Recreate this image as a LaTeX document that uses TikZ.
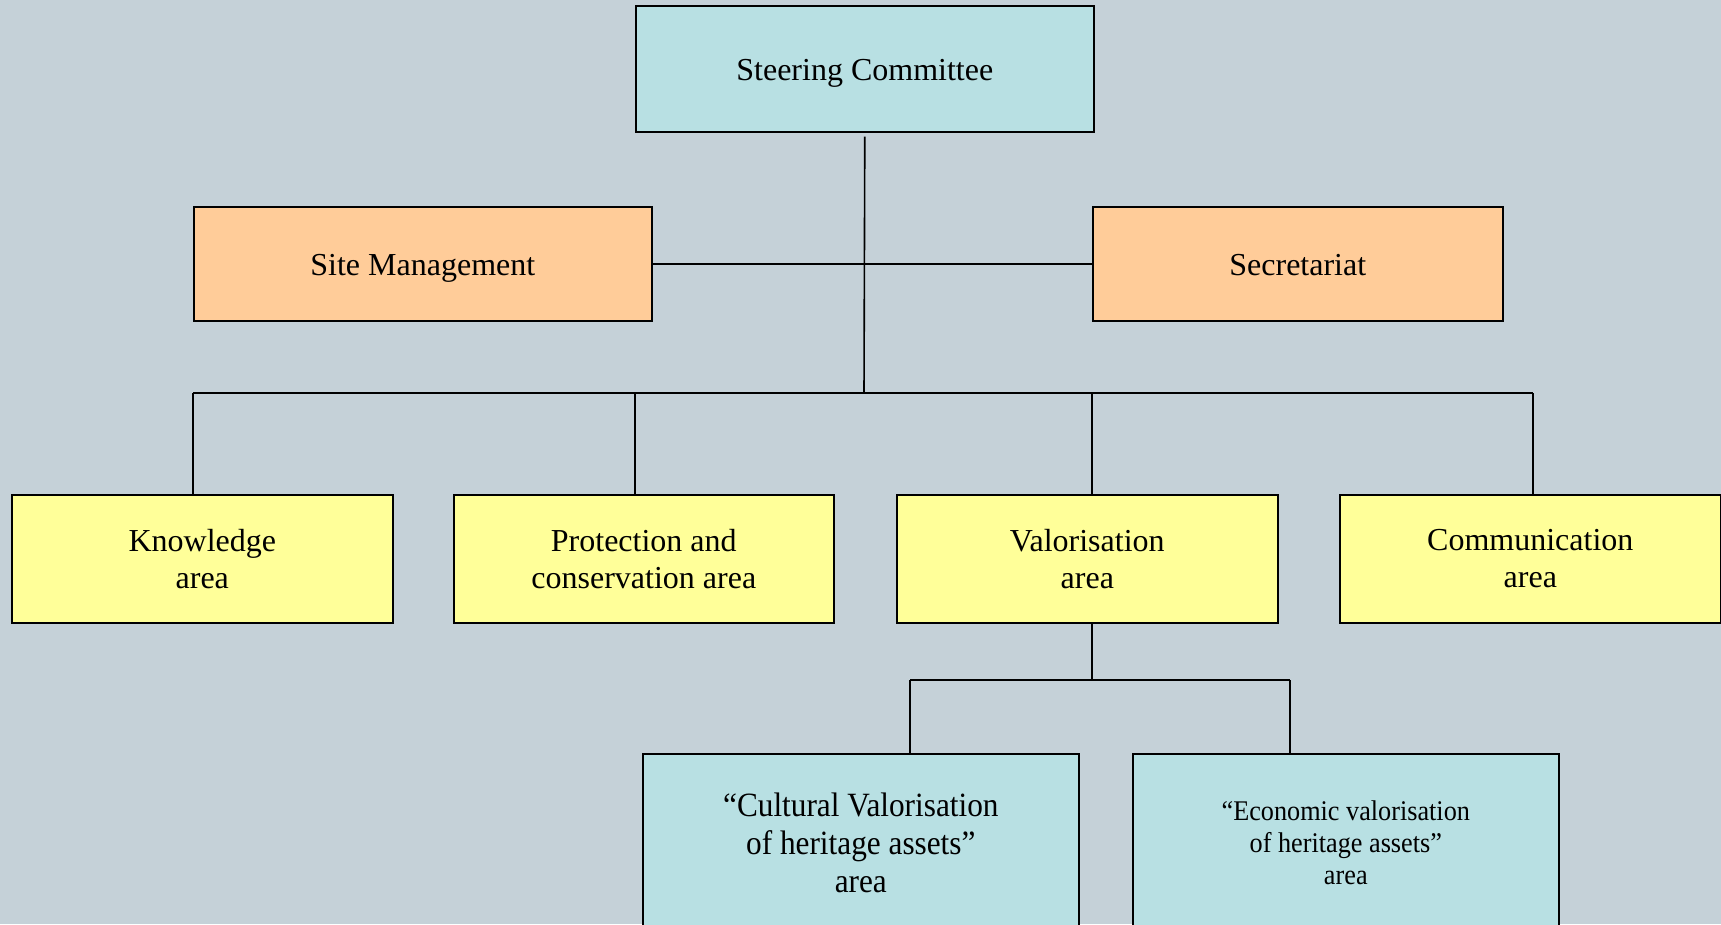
\documentclass[tikz,border=0pt]{standalone}
\usepackage{fontspec}
\setmainfont{Liberation Serif}[Ligatures=TeX]
\newfontfamily\condfont{Liberation Serif}[FakeStretch=0.92,Ligatures=TeX]
\definecolor{bg}{RGB}{197,209,216}
\definecolor{steerfill}{RGB}{184,224,227}
\definecolor{orangefill}{RGB}{255,204,153}
\definecolor{yellowfill}{RGB}{255,255,153}
\begin{document}
\begin{tikzpicture}[x=1pt,y=-1pt,
  box/.style={draw=black, line width=1.6pt, inner sep=0pt, align=center,
    anchor=north west, font=\fontsize{32}{37}\selectfont},
  oneline/.style={text height=30pt, text depth=6pt},
  link/.style={line width=1.6pt}]
\clip (0,0) rectangle (1721,924);
\fill[bg] (0,0) rectangle (1721,924);
% top
\node[box, oneline, fill=steerfill, minimum width=458pt, minimum height=126pt] (steer) at (635,5) {Steering Committee};
% second level
\node[box, oneline, fill=orangefill, minimum width=458pt, minimum height=114pt] (site) at (193,206) {Site Management};
\node[box, oneline, fill=orangefill, minimum width=410pt, minimum height=114pt] (sec) at (1092,206) {Secretariat};
% areas
\node[box, fill=yellowfill, minimum width=381pt, minimum height=128pt] (know) at (11,494) {Knowledge\\area};
\node[box, fill=yellowfill, minimum width=380pt, minimum height=128pt] (prot) at (453,494) {Protection and\\conservation area};
\node[box, fill=yellowfill, minimum width=381pt, minimum height=128pt] (val) at (896,494) {Valorisation\\area};
\node[box, fill=yellowfill, minimum width=381pt, minimum height=128pt] (comm) at (1339,494) {Communication\\area};
% bottom
\node[box, fill=steerfill, minimum width=436pt, minimum height=178pt,
  font=\condfont\fontsize{34}{38}\selectfont] (cult) at (642,753) {“Cultural Valorisation\\of heritage assets”\\area};
\node[box, fill=steerfill, minimum width=426pt, minimum height=178pt,
  font=\condfont\fontsize{28.5}{32}\selectfont] (econ) at (1132,753) {“Economic valorisation\\of heritage assets”\\area};
% connectors
\coordinate (j1) at (864,393);
\coordinate (b1) at (193,393);
\coordinate (b2) at (635,393);
\coordinate (b3) at (1092,393);
\coordinate (b4) at (1533,393);
\draw[link, shorten <=4pt] (steer.south) -- (j1);
\draw[link] (site.east) -- (sec.west);
\draw[link] (b1) -- (b4);
\draw[link] (b1) -- (b1 |- know.north);
\draw[link] (b2) -- (b2 |- prot.north);
\draw[link] (b3) -- (b3 |- val.north);
\draw[link] (b4) -- (b4 |- comm.north);
\coordinate (v0) at (1092,680);
\coordinate (v1) at (910,680);
\coordinate (v2) at (1290,680);
\draw[link] (v0 |- val.south) -- (v0);
\draw[link] (v1) -- (v2);
\draw[link] (v1) -- (v1 |- cult.north);
\draw[link] (v2) -- (v2 |- econ.north);
\end{tikzpicture}
\end{document}
